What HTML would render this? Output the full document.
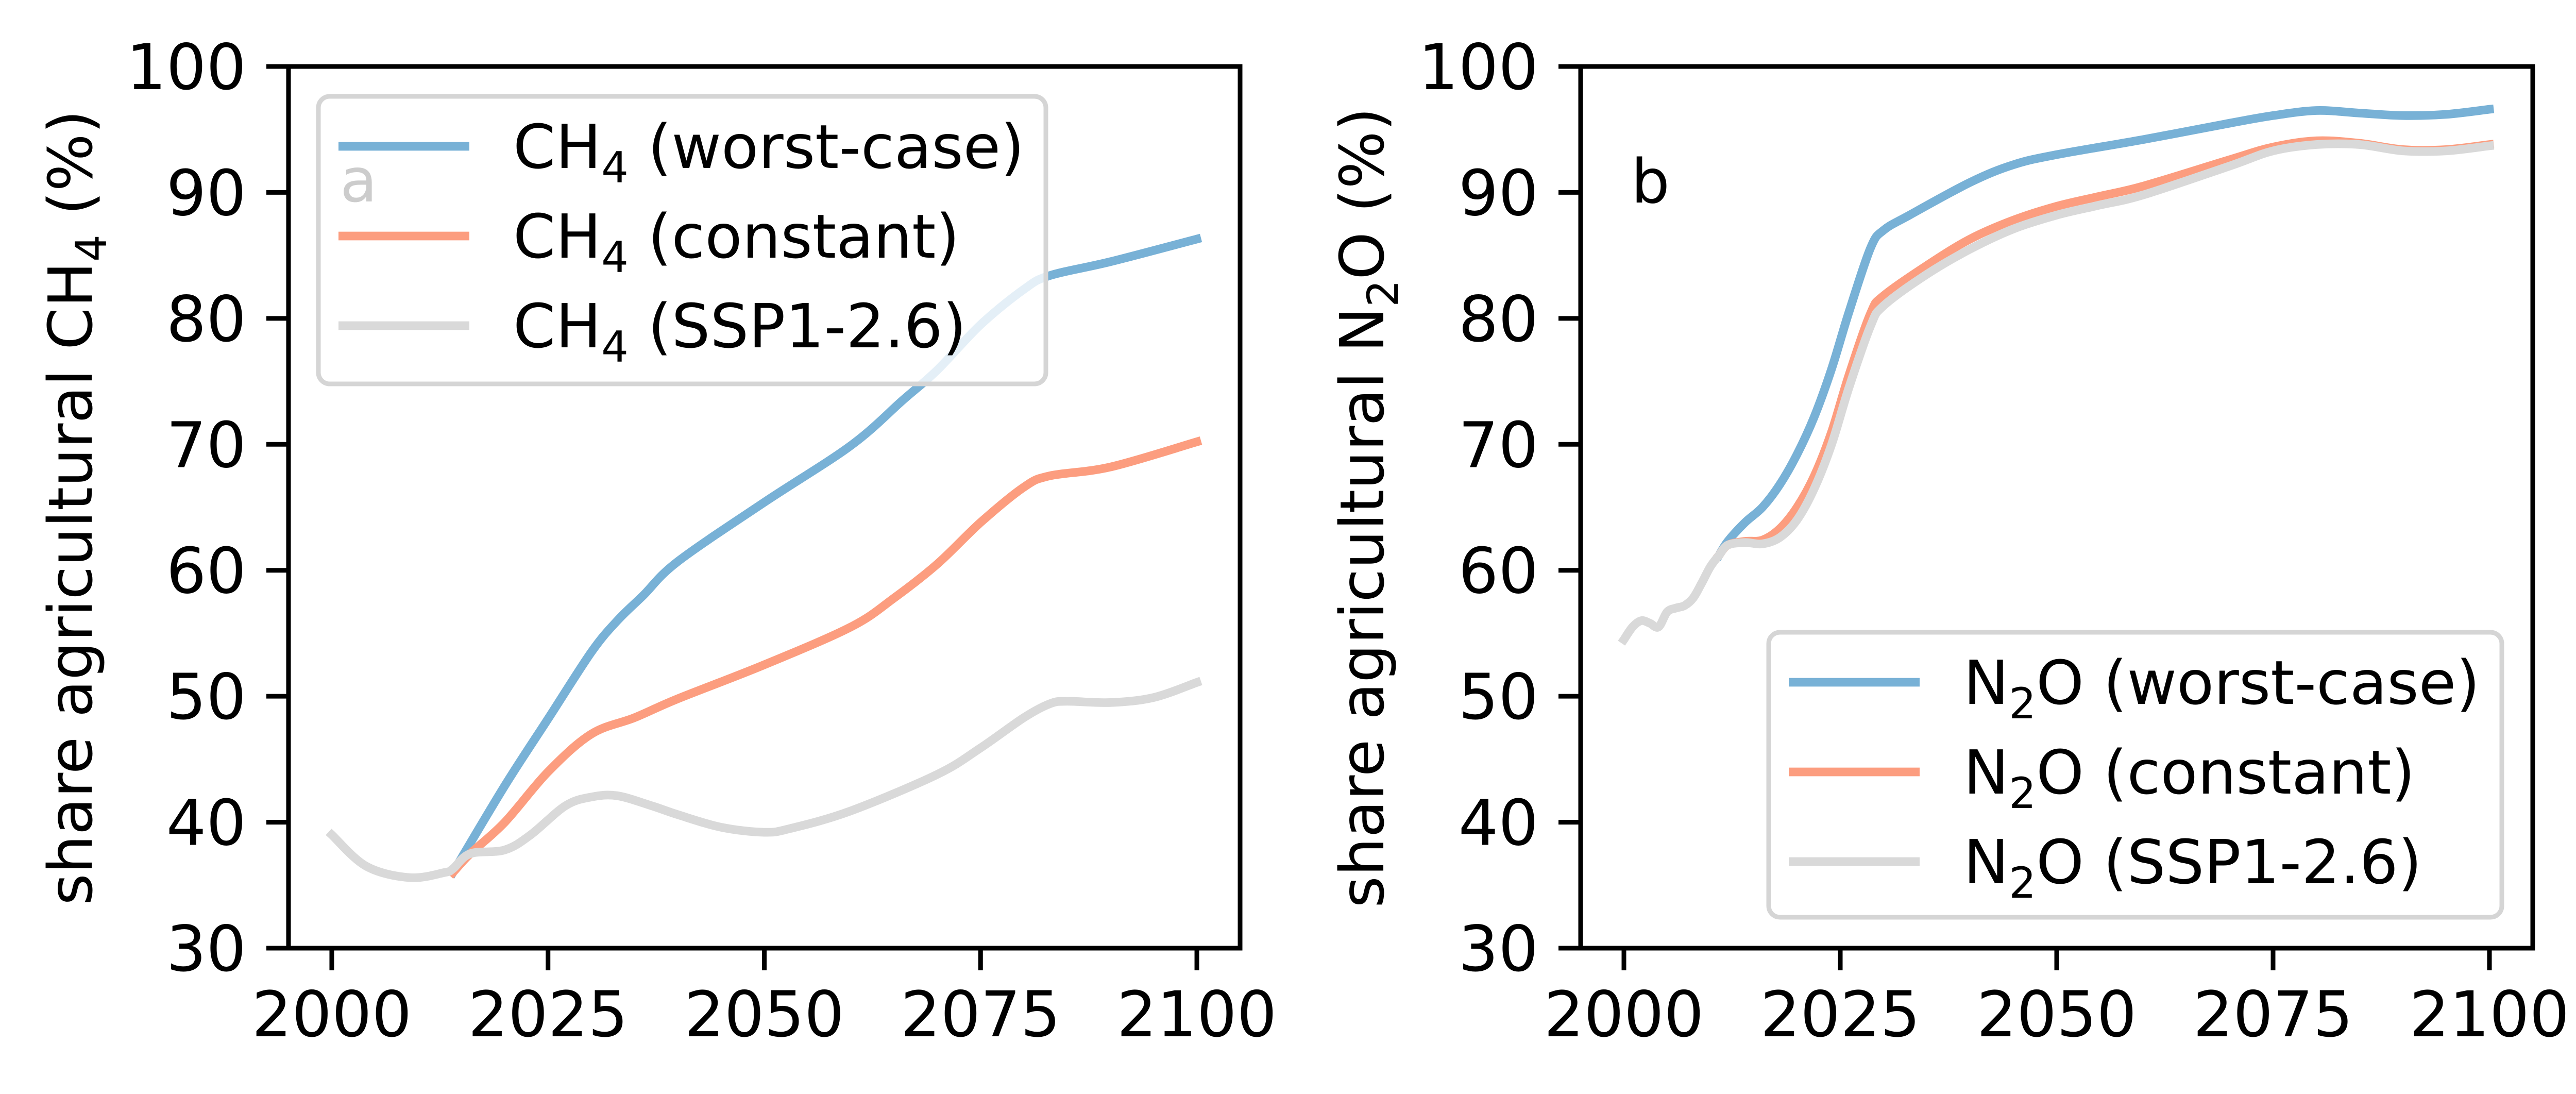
<!DOCTYPE html>
<html><head><meta charset="utf-8"><style>
html,body{margin:0;padding:0;background:#fff;}
svg{display:block;font-family:"DejaVu Sans","Liberation Sans",sans-serif;}
</style></head><body>
<svg id="fig" width="5066" height="2123" viewBox="0 0 5066 2123" xmlns="http://www.w3.org/2000/svg">
<rect width="5066" height="2123" fill="#fff"/>
</svg>
<script>
// ---------- data ----------
const xTicks = [2000, 2025, 2050, 2075, 2100];
const yTicks = [30, 40, 50, 60, 70, 80, 90, 100];

const ch4WorstYears = [2014, 2020, 2025, 2030, 2033, 2036, 2040, 2050, 2060, 2066, 2070, 2075, 2080, 2083, 2090, 2100];
const ch4WorstVals  = [36.0, 42.9, 48.2, 53.5, 56.0, 58.0, 60.7, 65.4, 69.9, 73.5, 75.9, 79.5, 82.3, 83.4, 84.5, 86.3];
const ch4ConstYears = [2014, 2016, 2020, 2025, 2030, 2035, 2040, 2050, 2060, 2065, 2070, 2075, 2080, 2083, 2090, 2100];
const ch4ConstVals  = [36.0, 37.5, 40.0, 44.0, 47.0, 48.3, 49.8, 52.5, 55.5, 57.8, 60.5, 63.8, 66.6, 67.5, 68.2, 70.2];
const ch4SspYears = [2000, 2004, 2009, 2013, 2014, 2016, 2020, 2023, 2027, 2030, 2033, 2037, 2040, 2045, 2050, 2053, 2060, 2070, 2075, 2080, 2083, 2085, 2090, 2095, 2100];
const ch4SspVals  = [39.0, 36.5, 35.6, 36.0, 36.3, 37.5, 37.8, 39.0, 41.3, 42.0, 42.1, 41.3, 40.6, 39.6, 39.2, 39.5, 40.9, 43.8, 45.9, 48.3, 49.4, 49.6, 49.5, 49.9, 51.1];

const n2oHistYears = [2000, 2001, 2002, 2003, 2004, 2005, 2006, 2007, 2008, 2009, 2010, 2011];
const n2oHistVals  = [54.5, 55.5, 56.0, 55.8, 55.5, 56.7, 57.0, 57.2, 57.8, 59.0, 60.3, 61.2];
const n2oWorstYears = [2011, 2012, 2014, 2016, 2018, 2020, 2022, 2024, 2026, 2028.5, 2030, 2033, 2040, 2045, 2050, 2060, 2070, 2075, 2080, 2085, 2090, 2095, 2100];
const n2oWorstVals  = [61.2, 62.3, 63.8, 65.0, 66.8, 69.2, 72.2, 76.0, 80.5, 85.6, 87.0, 88.2, 90.8, 92.2, 93.0, 94.2, 95.5, 96.1, 96.5, 96.3, 96.1, 96.2, 96.6];
const n2oConstYears = [2011, 2012, 2014, 2016, 2018, 2020, 2022, 2024, 2026, 2028.5, 2030, 2035, 2040, 2045, 2050, 2055, 2060, 2070, 2075, 2080, 2085, 2090, 2095, 2100];
const n2oConstVals  = [61.2, 62.0, 62.3, 62.4, 63.3, 65.0, 67.5, 71.0, 75.5, 80.4, 81.8, 84.2, 86.3, 87.8, 88.9, 89.7, 90.5, 92.6, 93.6, 94.1, 93.9, 93.4, 93.4, 93.8];
const n2oSspYears = [2012, 2014, 2016, 2018, 2020, 2022, 2024, 2026, 2028.5, 2030, 2035, 2040, 2045, 2050, 2055, 2060, 2070, 2075, 2080, 2085, 2090, 2095, 2100];
const n2oSspVals  = [62.0, 62.2, 62.1, 62.6, 64.0, 66.5, 70.0, 74.5, 79.4, 81.0, 83.5, 85.5, 87.1, 88.2, 89.0, 89.8, 92.1, 93.3, 93.8, 93.8, 93.3, 93.3, 93.7];

// ---------- drawing ----------
const NS = "http://www.w3.org/2000/svg";
const svg = document.getElementById('fig');
const C_BLUE = "#78b1d6", C_ORANGE = "#fc9d7f", C_GRAY = "#d9d9d9";
const Y0 = 129, Y1 = 1840;
const FT = 122, FL = 118;
function mk(tag, attrs, parent) {
  const e = document.createElementNS(NS, tag);
  for (const k in attrs) e.setAttribute(k, attrs[k]);
  (parent || svg).appendChild(e);
  return e;
}
function makeAxes(x0, x1) {
  return {
    x0, x1,
    sx: v => x0 + (x1 - x0) * (v - 1995) / 110,
    sy: v => Y1 - (Y1 - Y0) * (v - 30) / 70
  };
}
function smoothPath(P) {
  let d = "M" + P[0][0].toFixed(1) + "," + P[0][1].toFixed(1);
  for (let i = 0; i < P.length - 1; i++) {
    const p0 = P[Math.max(0, i - 1)], p1 = P[i], p2 = P[i + 1], p3 = P[Math.min(P.length - 1, i + 2)];
    const c1x = p1[0] + (p2[0] - p0[0]) / 6, c1y = p1[1] + (p2[1] - p0[1]) / 6;
    const c2x = p2[0] - (p3[0] - p1[0]) / 6, c2y = p2[1] - (p3[1] - p1[1]) / 6;
    d += " C" + c1x.toFixed(1) + "," + c1y.toFixed(1) + " " + c2x.toFixed(1) + "," + c2y.toFixed(1) + " " + p2[0].toFixed(1) + "," + p2[1].toFixed(1);
  }
  return d;
}
function drawLine(ax, years, vals, color, name) {
  const P = years.map((y, i) => [ax.sx(y), ax.sy(vals[i])]);
  const p = mk('path', {d: smoothPath(P), fill: "none", stroke: color, "stroke-width": 16.7, "stroke-linejoin": "round", "stroke-linecap": "square"});
  
  
}
function drawFrame(ax, panel) {
  const g = mk('g', {});
  
  
  mk('rect', {x: ax.x0, y: Y0, width: ax.x1 - ax.x0, height: Y1 - Y0, fill: "none", stroke: "#000", "stroke-width": 9}, g);
  xTicks.forEach(t => {
    const x = ax.sx(t);
    mk('line', {x1: x, x2: x, y1: Y1, y2: Y1 + 43, stroke: "#000", "stroke-width": 9}, g);
    const tx = mk('text', {x: x, y: Y1 + 43 + 39 + 89, "font-size": FT, "text-anchor": "middle", fill: "#000"}, g);
    tx.textContent = t;
    
    
  });
  yTicks.forEach(t => {
    const y = ax.sy(t);
    mk('line', {x1: ax.x0 - 43, x2: ax.x0, y1: y, y2: y, stroke: "#000", "stroke-width": 9}, g);
    const tx = mk('text', {x: ax.x0 - 43 - 39, y: y + 44, "font-size": FT, "text-anchor": "end", fill: "#000"}, g);
    tx.textContent = t;
    
    
  });
}
function chemLabel(parent, x, y, base, sub, rest, anchor, name) {
  const t = mk('text', {x, y, "font-size": FL, fill: "#000", "text-anchor": anchor || "start"}, parent);
  
  
  const a = mk('tspan', {}, t); a.textContent = base;
  const b = mk('tspan', {dy: 28, "font-size": 83}, t); b.textContent = sub;
  const c = mk('tspan', {dy: -28}, t); c.textContent = rest;
  return t;
}
function drawLegend(lx, ly, w, h, rows, name) {
  const g = mk('g', {});
  
  
  mk('rect', {x: lx, y: ly, width: w, height: h, rx: 22, fill: "#fff", "fill-opacity": 0.8, stroke: "#d5d5d5", "stroke-width": 9}, g);
  rows.forEach((r, i) => {
    const cy = ly + 97 + i * 174;
    const ln = mk('line', {x1: lx + 39, x2: lx + 293, y1: cy, y2: cy, stroke: r.color, "stroke-width": 16.7}, g);
    
    
    chemLabel(g, lx + 378, cy + 42, r.base, r.sub, r.rest, "start", 'legend-entry');
  });
}

// Panel a
const axA = makeAxes(560, 2407);
drawLine(axA, ch4WorstYears, ch4WorstVals, C_BLUE, 'ch4-worst-case-line');
drawLine(axA, ch4ConstYears, ch4ConstVals, C_ORANGE, 'ch4-constant-line');
drawLine(axA, ch4SspYears, ch4SspVals, C_GRAY, 'ch4-ssp126-line');
drawFrame(axA, 'panel-a');
const la = mk('text', {x: 660, y: 391, "font-size": FL, fill: "#000"});
la.textContent = "a";


drawLegend(618, 187, 1412, 558, [
  {color: C_BLUE, base: "CH", sub: "4", rest: " (worst-case)"},
  {color: C_ORANGE, base: "CH", sub: "4", rest: " (constant)"},
  {color: C_GRAY, base: "CH", sub: "4", rest: " (SSP1-2.6)"}
], 'ch4-legend');
const ya = chemLabel(svg, 0, 0, "share agricultural CH", "4", " (%)", "middle", 'panel-a-y-axis-title');
ya.setAttribute('transform', 'translate(178,985) rotate(-90)');

// Panel b
const axB = makeAxes(3068, 4916);
drawLine(axB, n2oWorstYears, n2oWorstVals, C_BLUE, 'n2o-worst-case-line');
drawLine(axB, n2oConstYears, n2oConstVals, C_ORANGE, 'n2o-constant-line');
drawLine(axB, n2oHistYears.concat(n2oSspYears), n2oHistVals.concat(n2oSspVals), C_GRAY, 'n2o-ssp126-line');
drawFrame(axB, 'panel-b');
const lb = mk('text', {x: 3166, y: 393, "font-size": FL, fill: "#000"});
lb.textContent = "b";


drawLegend(3433, 1227, 1423, 553, [
  {color: C_BLUE, base: "N", sub: "2", rest: "O (worst-case)"},
  {color: C_ORANGE, base: "N", sub: "2", rest: "O (constant)"},
  {color: C_GRAY, base: "N", sub: "2", rest: "O (SSP1-2.6)"}
], 'n2o-legend');
const yb = chemLabel(svg, 0, 0, "share agricultural N", "2", "O (%)", "middle", 'panel-b-y-axis-title');
yb.setAttribute('transform', 'translate(2685,985) rotate(-90)');
</script>
</body></html>
